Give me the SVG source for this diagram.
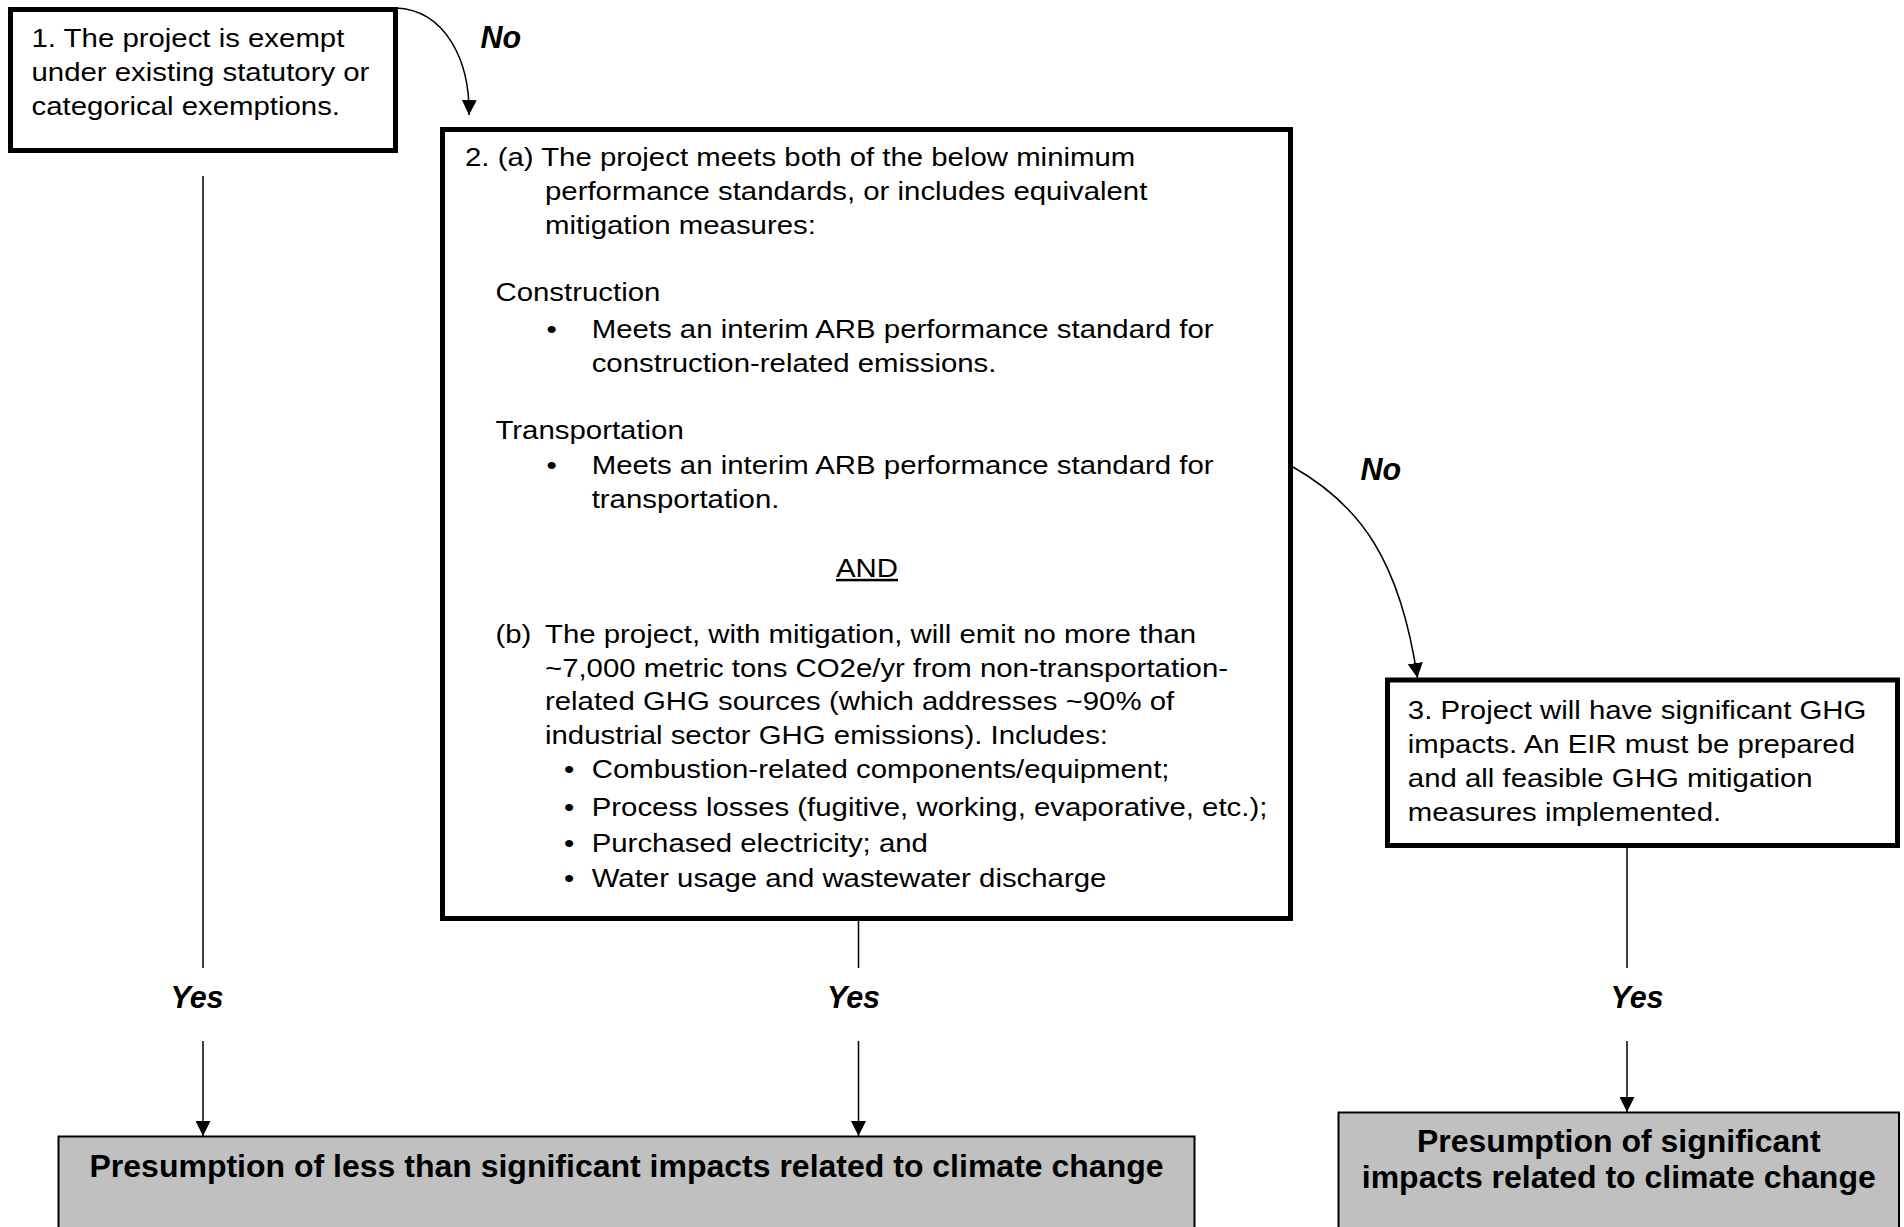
<svg xmlns="http://www.w3.org/2000/svg" width="1904" height="1227" viewBox="0 0 1904 1227">
<defs>
<marker id="ah" viewBox="0 0 10 10" refX="10" refY="5" markerWidth="15" markerHeight="15" markerUnits="userSpaceOnUse" orient="auto"><path d="M0,0 L10,5 L0,10 z" fill="#000"/></marker>
<style>
.box{fill:#fff;stroke:#000;stroke-width:5}
.res{fill:#c0c0c0;stroke:#000;stroke-width:2}
.t{font-family:"Liberation Sans",Arial,sans-serif;font-size:25px;fill:#000}
.lbl{font-family:"Liberation Sans",Arial,sans-serif;font-size:30.5px;font-weight:bold;font-style:italic;fill:#000}
.rt{font-family:"Liberation Sans",Arial,sans-serif;font-size:32px;font-weight:bold;text-anchor:middle;fill:#000}
.ln{fill:none;stroke:#000;stroke-width:1.5}
</style>
</defs>
<rect width="1904" height="1227" fill="#fff"/>

<g id="node1">
<rect class="box" x="10.5" y="9.5" width="385" height="141"/>
<g transform="scale(1.175 1)">
<text class="t" x="26.81" y="47">1. The project is exempt</text>
<text class="t" x="26.81" y="81.5">under existing statutory or</text>
<text class="t" x="26.81" y="115.5">categorical exemptions.</text>
</g>
</g>

<g id="node2">
<rect class="box" x="442.5" y="129.5" width="848" height="789"/>
<g transform="scale(1.175 1)">
<text class="t" x="395.74" y="166.5">2. (a) The project meets both of the below minimum</text>
<text class="t" x="463.83" y="200.5">performance standards, or includes equivalent</text>
<text class="t" x="463.83" y="234.5">mitigation measures:</text>
<text class="t" x="421.7" y="301.5">Construction</text>
<text class="t" x="465.11" y="338">•</text>
<text class="t" x="503.57" y="338">Meets an interim ARB performance standard for</text>
<text class="t" x="503.57" y="372">construction-related emissions.</text>
<text class="t" x="421.7" y="439">Transportation</text>
<text class="t" x="465.11" y="474">•</text>
<text class="t" x="503.57" y="474">Meets an interim ARB performance standard for</text>
<text class="t" x="503.57" y="508">transportation.</text>
<text class="t" x="737.87" y="577" text-anchor="middle" text-decoration="underline">AND</text>
<text class="t" x="421.7" y="643.5">(b)</text>
<text class="t" x="463.83" y="643.5">The project, with mitigation, will emit no more than</text>
<text class="t" x="463.83" y="677">~7,000 metric tons CO2e/yr from non-transportation-</text>
<text class="t" x="463.83" y="710.5">related GHG sources (which addresses ~90% of</text>
<text class="t" x="463.83" y="744">industrial sector GHG emissions). Includes:</text>
<text class="t" x="480" y="778.5">•</text>
<text class="t" x="503.57" y="778.5">Combustion-related components/equipment;</text>
<text class="t" x="480" y="816">•</text>
<text class="t" x="503.57" y="816">Process losses (fugitive, working, evaporative, etc.);</text>
<text class="t" x="480" y="852">•</text>
<text class="t" x="503.57" y="852">Purchased electricity; and</text>
<text class="t" x="480" y="887">•</text>
<text class="t" x="503.57" y="887">Water usage and wastewater discharge</text>
</g>
</g>

<g id="node3">
<rect class="box" x="1387.5" y="680" width="510" height="165.5"/>
<g transform="scale(1.175 1)">
<text class="t" x="1198.13" y="719">3. Project will have significant GHG</text>
<text class="t" x="1198.13" y="753">impacts. An EIR must be prepared</text>
<text class="t" x="1198.13" y="787">and all feasible GHG mitigation</text>
<text class="t" x="1198.13" y="821">measures implemented.</text>
</g>
</g>

<g id="result-less">
<rect class="res" x="58.5" y="1136.5" width="1136" height="130"/>
<text class="rt" x="626.5" y="1177">Presumption of less than significant impacts related to climate change</text>
</g>

<g id="result-significant">
<rect class="res" x="1338.5" y="1112.5" width="560.5" height="150"/>
<text class="rt" x="1618.75" y="1152">Presumption of significant</text>
<text class="rt" x="1618.75" y="1188">impacts related to climate change</text>
</g>

<g id="connectors">
<path class="ln" d="M396,8 C445,10 470,60 469,115" marker-end="url(#ah)"/>
<path class="ln" d="M1293,467 C1360,505 1400,560 1417.5,678" marker-end="url(#ah)"/>
<line class="ln" x1="203" y1="176" x2="203" y2="968"/>
<line class="ln" x1="203" y1="1041" x2="203" y2="1136" marker-end="url(#ah)"/>
<line class="ln" x1="858.5" y1="921" x2="858.5" y2="968"/>
<line class="ln" x1="858.5" y1="1041" x2="858.5" y2="1136" marker-end="url(#ah)"/>
<line class="ln" x1="1627" y1="848" x2="1627" y2="968"/>
<line class="ln" x1="1627" y1="1041" x2="1627" y2="1112" marker-end="url(#ah)"/>
<text class="lbl" x="480.5" y="48">No</text>
<text class="lbl" x="1360.5" y="480">No</text>
<text class="lbl" x="197" y="1008" text-anchor="middle">Yes</text>
<text class="lbl" x="853.5" y="1008" text-anchor="middle">Yes</text>
<text class="lbl" x="1637" y="1008" text-anchor="middle">Yes</text>
</g>
</svg>
